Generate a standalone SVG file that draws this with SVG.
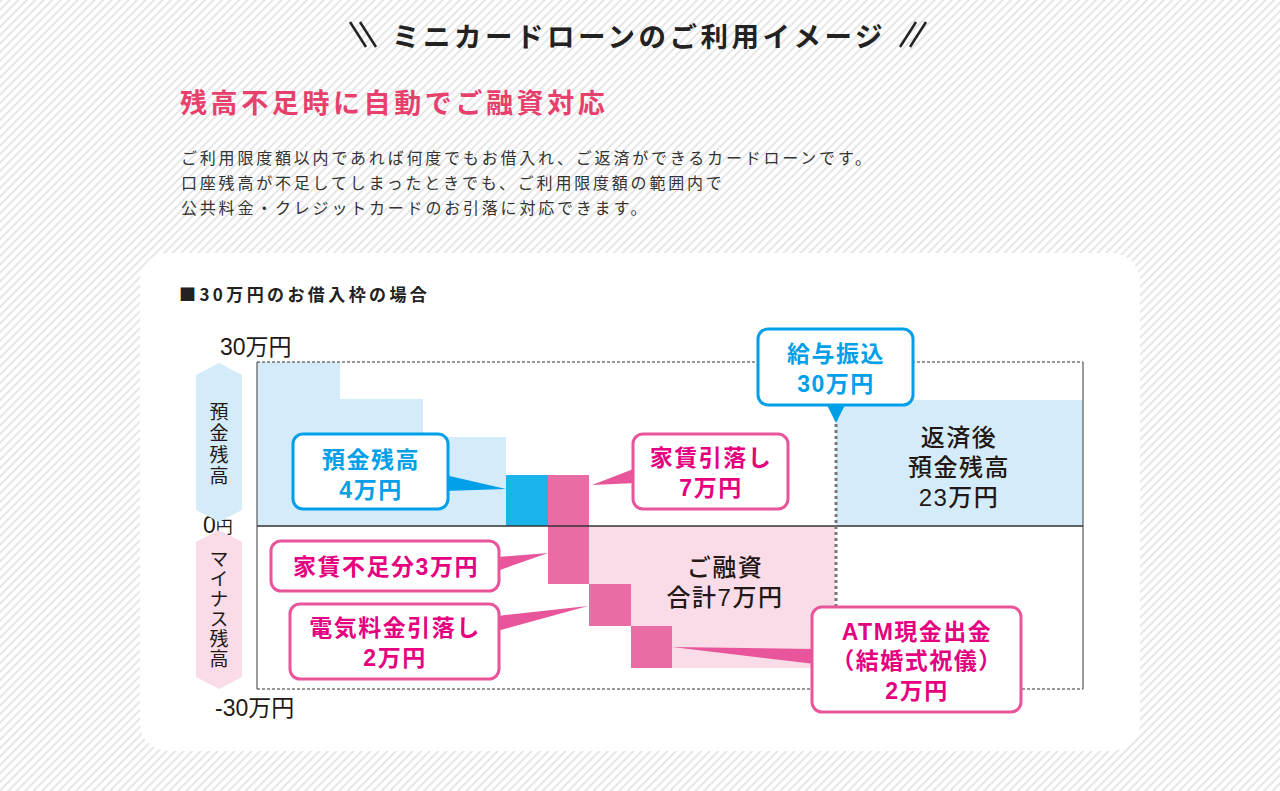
<svg xmlns="http://www.w3.org/2000/svg" width="1280" height="791" viewBox="0 0 1280 791">
<defs>
<pattern id="hatch" width="6" height="6" patternUnits="userSpaceOnUse" patternTransform="rotate(45)">
<rect width="6" height="6" fill="#ffffff"/>
<rect width="2" height="6" fill="#e6e6e6"/>
</pattern>
<style>
.jp{font-family:"Noto Sans CJK JP","Noto Sans",sans-serif;}
.mx{font-family:"Liberation Sans","Noto Sans CJK JP",sans-serif;}
.title{font-size:27.5px;font-weight:700;fill:#222;letter-spacing:3.5px;}
.sub{font-size:27px;font-weight:700;fill:#e8406d;letter-spacing:3.6px;}
.para{font-size:16px;fill:#333;letter-spacing:2.8px;}
.head{font-size:17px;font-weight:700;fill:#222;letter-spacing:3.4px;}
.axis{font-size:23px;fill:#231815;}
.vlab{font-size:19px;fill:#231815;writing-mode:vertical-rl;}
.cb{font-size:23px;font-weight:700;fill:#00a0e9;text-anchor:middle;letter-spacing:1.5px;}
.cp{font-size:23px;font-weight:700;fill:#e4007f;text-anchor:middle;letter-spacing:1.5px;}
.inner{font-size:24px;font-weight:500;fill:#231815;text-anchor:middle;letter-spacing:1.5px;}
.boxb{fill:#fff;stroke:#00a0e9;stroke-width:3;}
.boxp{fill:#fff;stroke:#e9559a;stroke-width:3;}
</style>
</defs>
<rect width="1280" height="791" fill="url(#hatch)"/>

<g id="header">
<line x1="350" y1="22" x2="366" y2="47" stroke="#222" stroke-width="2.5"/>
<line x1="360" y1="22" x2="376" y2="47" stroke="#222" stroke-width="2.5"/>
<line x1="916" y1="22" x2="900" y2="47" stroke="#222" stroke-width="2.5"/>
<line x1="926" y1="22" x2="910" y2="47" stroke="#222" stroke-width="2.5"/>
<text class="jp title" x="392" y="47">ミニカードローンのご利用イメージ</text>
<text class="jp sub" x="180" y="113">残高不足時に自動でご融資対応</text>
<text class="jp para" x="181" y="164">ご利用限度額以内であれば何度でもお借入れ、ご返済ができるカードローンです。</text>
<text class="jp para" x="181" y="189">口座残高が不足してしまったときでも、ご利用限度額の範囲内で</text>
<text class="jp para" x="181" y="214">公共料金・クレジットカードのお引落に対応できます。</text>
</g>

<rect id="panel" x="140" y="253" width="1000" height="498" rx="28" fill="#fff"/>

<g id="chart">
<text class="jp head" x="179" y="301">■30万円のお借入枠の場合</text>
<!-- deposits -->
<rect x="257" y="362" width="83" height="164" fill="#d4ecf9"/>
<rect x="340" y="399" width="83" height="127" fill="#d4ecf9"/>
<rect x="423" y="437" width="83" height="89" fill="#d4ecf9"/>
<rect x="506" y="475" width="42" height="51" fill="#1bb4ea"/>
<rect x="836" y="400" width="247" height="126" fill="#d4ecf9"/>
<!-- loans -->
<polygon points="589,526 835,526 835,668 672,668 672,626 631,626 631,584 589,584" fill="#f9dce8"/>
<rect x="548" y="475" width="41" height="109" fill="#ea6ca4"/>
<rect x="589" y="584" width="42" height="42" fill="#ea6ca4"/>
<rect x="631" y="626" width="41" height="42" fill="#ea6ca4"/>
<!-- frame -->
<line x1="257" y1="362" x2="1083" y2="362" stroke="#333" stroke-width="1" stroke-dasharray="3 2"/>
<line x1="257" y1="689" x2="1083" y2="689" stroke="#333" stroke-width="1" stroke-dasharray="3 2"/>
<line x1="257" y1="362" x2="257" y2="689" stroke="#595757" stroke-width="1.2"/>
<line x1="1083" y1="362" x2="1083" y2="689" stroke="#595757" stroke-width="1.2"/>
<line x1="257" y1="526" x2="1083" y2="526" stroke="#333" stroke-width="1.5"/>
<!-- axis labels -->
<text class="mx axis" x="220" y="355">30万円</text>
<text class="mx axis" x="203" y="533">0<tspan font-size="17">円</tspan></text>
<text class="mx axis" x="215" y="716">-30万円</text>
<!-- inner labels -->
<text class="mx inner" x="959" y="446">返済後</text>
<text class="mx inner" x="959" y="476">預金残高</text>
<text class="mx inner" x="959" y="506">23万円</text>
<text class="mx inner" x="725" y="576">ご融資</text>
<text class="mx inner" x="725" y="606">合計7万円</text>
</g>

<g id="banner-deposit">
<polygon points="219,363 242,375 242,510 219,522 196,510 196,375" fill="#d4ecf9"/>
<text class="jp vlab" x="219" y="402" letter-spacing="2.5">預金残高</text>
</g>
<g id="banner-minus">
<polygon points="219,530 242,542 242,677 219,689 196,677 196,542" fill="#f9dce8"/>
<text class="jp vlab" x="219" y="549" letter-spacing="1">マイナス残高</text>
</g>

<g id="connectors">
<line x1="836" y1="412" x2="836" y2="689" stroke="#777" stroke-width="3" stroke-dasharray="3 3"/>
<polygon points="445,475 506,489 445,491" fill="#00a0e9"/>
<polygon points="826,403 846,403 836,423" fill="#00a0e9"/>
<polygon points="636,468 592,485 636,483" fill="#e9559a"/>
<polygon points="497,557 548,553 497,571" fill="#e9559a"/>
<polygon points="497,616 588,606 497,631" fill="#e9559a"/>
<polygon points="672,647 815,649 815,664" fill="#e9559a"/>
</g>

<g id="callout-deposit">
<rect class="boxb" x="293" y="434" width="155" height="75" rx="10"/>
<text class="mx cb" x="371" y="468">預金残高</text>
<text class="mx cb" x="371" y="498">4万円</text>
</g>
<g id="callout-salary">
<rect class="boxb" x="758" y="329" width="155" height="76" rx="10"/>
<text class="mx cb" x="836" y="362">給与振込</text>
<text class="mx cb" x="836" y="392">30万円</text>
</g>
<g id="callout-rent">
<rect class="boxp" x="633" y="434" width="155" height="75" rx="10"/>
<text class="mx cp" x="711" y="466">家賃引落し</text>
<text class="mx cp" x="711" y="496">7万円</text>
</g>
<g id="callout-shortfall">
<rect class="boxp" x="271" y="541" width="228" height="50" rx="10"/>
<text class="mx cp" x="386" y="575">家賃不足分3万円</text>
</g>
<g id="callout-electric">
<rect class="boxp" x="290" y="604" width="209" height="75" rx="10"/>
<text class="mx cp" x="395" y="636">電気料金引落し</text>
<text class="mx cp" x="395" y="666">2万円</text>
</g>
<g id="callout-atm">
<rect class="boxp" x="812" y="607" width="209" height="105" rx="10"/>
<text class="mx cp" x="917" y="640">ATM現金出金</text>
<text class="mx cp" x="917" y="669">（結婚式祝儀）</text>
<text class="mx cp" x="917" y="699">2万円</text>
</g>
</svg>
